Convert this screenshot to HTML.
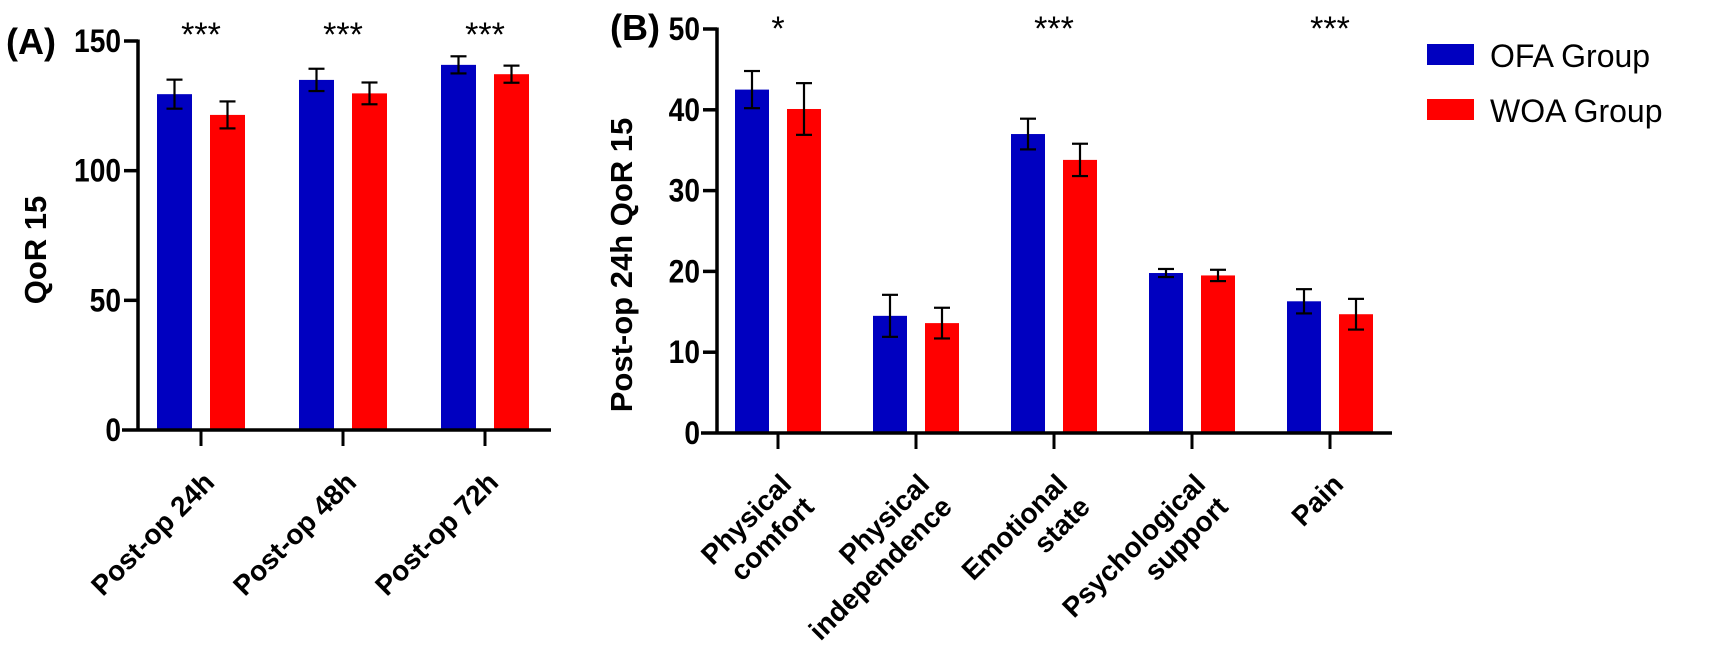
<!DOCTYPE html>
<html><head><meta charset="utf-8"><style>
html,body{margin:0;padding:0;background:#fff;}
svg{display:block;font-family:"Liberation Sans",Arial,sans-serif;}
</style></head><body>
<svg id="chart" width="1712" height="647" viewBox="0 0 1712 647" xmlns="http://www.w3.org/2000/svg">
<g id="panelA"></g>
<g id="panelB"></g>
<g id="legend">
  <rect x="1427" y="44" width="47" height="21" fill="#0000C0"/>
  <text x="1490" y="67" font-size="32">OFA Group</text>
  <rect x="1427" y="99" width="47" height="21" fill="#FF0000"/>
  <text x="1490" y="122" font-size="32">WOA Group</text>
</g>
</svg>
<script>
const catsA = [["Post-op 24h"],["Post-op 48h"],["Post-op 72h"]];
const ofaA = [129.5, 135, 140.8];
const ofaErrA = [5.6, 4.3, 3.3];
const woaA = [121.5, 129.8, 137.2];
const woaErrA = [5.2, 4.2, 3.3];
const sigA = ["***","***","***"];
const ticksA = [0, 50, 100, 150];

const catsB = [["Physical","comfort"],["Physical","independence"],["Emotional","state"],["Psychological","support"],["Pain"]];
const ofaB = [42.5, 14.5, 37.0, 19.8, 16.3];
const ofaErrB = [2.3, 2.6, 1.9, 0.5, 1.5];
const woaB = [40.1, 13.6, 33.8, 19.5, 14.7];
const woaErrB = [3.2, 1.9, 2.0, 0.7, 1.9];
const sigB = ["*","","***","","***"];
const ticksB = [0, 10, 20, 30, 40, 50];

const NS = "http://www.w3.org/2000/svg";
function mk(tag, attrs, parent){
  const e = document.createElementNS(NS, tag);
  for (const k in attrs) e.setAttribute(k, attrs[k]);
  parent.appendChild(e); return e;
}

function drawPanel(g, cfg){
  const y = v => cfg.y0 - (v - 0) / cfg.max * (cfg.y0 - cfg.yTop);
  const x = i => cfg.x0 + i * cfg.step;
  cfg.cats.forEach((c, i) => {
    const cx = x(i);
    [[cfg.ofa, cfg.ofaErr, "#0000C0", -cfg.off - cfg.bw, "ofa"], [cfg.woa, cfg.woaErr, "#FF0000", cfg.off, "woa"]].forEach(s => {
      const v = s[0][i], e = s[1][i];
      const r = mk("rect", {x: cx + s[3], y: y(v), width: cfg.bw, height: cfg.y0 - y(v), fill: s[2]}, g);
      
      
      const mx = cx + s[3] + cfg.bw / 2;
      const eg = mk("g", {stroke: "#000", "stroke-width": 2.2, fill: "none"}, g);
      
      
      mk("line", {x1: mx, x2: mx, y1: y(v + e), y2: y(v - e)}, eg);
      mk("line", {x1: mx - 8, x2: mx + 8, y1: y(v + e), y2: y(v + e)}, eg);
      mk("line", {x1: mx - 8, x2: mx + 8, y1: y(v - e), y2: y(v - e)}, eg);
    });
    if (cfg.sig[i]) {
      const t = mk("text", {x: cx, y: cfg.sigY, "text-anchor": "middle", "font-size": 34}, g);
      
      
      t.textContent = cfg.sig[i];
    }
    const tk = mk("line", {x1: cx, x2: cx, y1: cfg.y0, y2: cfg.y0 + 16, stroke: "#000", "stroke-width": 3}, g);
    
    
    const lg = mk("g", {transform: `translate(${cx + cfg.lblDx},${cfg.lblY}) rotate(-45)`}, g);
    
    
    c.forEach((line, j) => {
      const t = mk("text", {x: 0, y: j * 32, "text-anchor": "end", "font-size": 28, "font-weight": "bold"}, lg);
      t.textContent = line;
    });
  });
  const ax = mk("g", {stroke: "#000", "stroke-width": 3.5, fill: "none"}, g);
  
  
  mk("line", {x1: cfg.ax, x2: cfg.ax, y1: cfg.yTop - 1.5, y2: cfg.y0}, ax);
  mk("line", {x1: cfg.ax - 16, x2: cfg.xEnd, y1: cfg.y0, y2: cfg.y0}, ax);
  cfg.ticks.forEach(tv => {
    if (tv !== 0) mk("line", {x1: cfg.ax - 14, x2: cfg.ax, y1: y(tv), y2: y(tv)}, ax);
    const tx = cfg.ax - 17;
    const t = mk("text", {x: tx, y: y(tv) + 11, "text-anchor": "end", "font-size": 32, "font-weight": "bold", transform: `translate(${tx},0) scale(0.88,1) translate(${-tx},0)`}, g);
    
    
    t.textContent = tv;
  });
  const yt = mk("text", {x: 0, y: 0, "text-anchor": "middle", "font-size": 31, "font-weight": "bold", transform: `translate(${cfg.ytX},${cfg.ytY}) rotate(-90)`}, g);
  
  
  yt.textContent = cfg.ytitle;
  const pl = mk("text", {x: cfg.plX, y: cfg.plY, "font-size": 36, "font-weight": "bold"}, g);
  
  
  pl.textContent = cfg.plabel;
}

drawPanel(document.getElementById('panelA'), {
  cats: catsA, ofa: ofaA, ofaErr: ofaErrA, woa: woaA, woaErr: woaErrA, sig: sigA, ticks: ticksA,
  max: 150, y0: 430, yTop: 41, x0: 201, step: 142, bw: 35, off: 9, ax: 138, xEnd: 551,
  sigY: 46, lblDx: 15, lblY: 484, ytitle: "QoR 15", ytX: 46, ytY: 250, plabel: "(A)", plX: 6, plY: 54
});
drawPanel(document.getElementById('panelB'), {
  cats: catsB, ofa: ofaB, ofaErr: ofaErrB, woa: woaB, woaErr: woaErrB, sig: sigB, ticks: ticksB,
  max: 50, y0: 433, yTop: 29, x0: 778, step: 138, bw: 34, off: 9, ax: 717, xEnd: 1392,
  sigY: 40, lblDx: 15, lblY: 486, ytitle: "Post-op 24h QoR 15", ytX: 632, ytY: 265, plabel: "(B)", plX: 610, plY: 40
});
</script>
</body></html>
